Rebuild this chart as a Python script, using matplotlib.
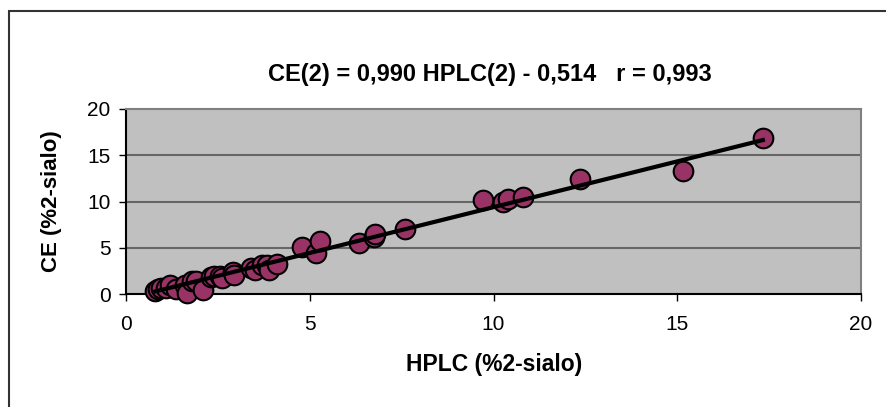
import matplotlib
matplotlib.use("Agg")
import matplotlib.pyplot as plt
from matplotlib.patches import Rectangle
import numpy as np

plt.rcParams['font.family'] = ['Liberation Sans', 'DejaVu Sans']

# HPLC vs CE measurements of 2-sialo transferrin (%)
hplc = [0.80, 0.88, 0.95, 1.10, 1.20, 1.35, 1.60, 1.66, 1.80, 1.90, 2.10,
        2.30, 2.40, 2.55, 2.62, 2.90, 2.95, 3.40, 3.50, 3.70, 3.85, 3.90, 4.10,
        4.79, 5.17, 5.28, 6.34, 6.75, 6.78, 7.59,
        9.71, 10.26, 10.40, 10.80, 12.35, 15.16, 17.33]
ce = [0.30, 0.50, 0.70, 0.60, 1.00, 0.50, 1.00, 0.15, 1.40, 1.40, 0.40,
      1.80, 1.90, 1.90, 1.70, 2.40, 2.10, 2.80, 2.60, 3.10, 3.10, 2.60, 3.20,
      5.10, 4.40, 5.70, 5.50, 6.20, 6.50, 7.00,
      10.20, 9.90, 10.30, 10.50, 12.40, 13.30, 16.90]

slope = 0.990
intercept = -0.514

x_ticks = [0, 5, 10, 15, 20]
y_ticks = [0, 5, 10, 15, 20]

fig = plt.figure(figsize=(8.86, 4.07), dpi=100)
ax = fig.add_axes([126 / 886, 1 - 294 / 407, 735 / 886, 185 / 407])

ax.set_facecolor('#C0C0C0')
ax.set_xlim(0, 20)
ax.set_ylim(0, 20)
ax.set_xticks(x_ticks)
ax.set_yticks(y_ticks)
ax.tick_params(direction='out', length=5, width=1, labelsize=15, color='black')
ax.tick_params(axis='x', pad=10)
ax.tick_params(axis='y', pad=6)

for yv in y_ticks[1:-1]:
    ax.axhline(yv, color='#666666', lw=1.5, zorder=1)

for side in ('top', 'right'):
    ax.spines[side].set_color('#808080')
    ax.spines[side].set_linewidth(1.5)
for side in ('left', 'bottom'):
    ax.spines[side].set_color('black')
    ax.spines[side].set_linewidth(1.5)

ax.scatter(hplc, ce, s=200, color='#993366', edgecolor='black', linewidth=1.5,
           zorder=3, clip_on=False)

xl = np.array([min(hplc), max(hplc)])
ax.plot(xl, slope * xl + intercept, color='black', lw=3, zorder=4)

fig.text(494 / 886, 1 - 365 / 407, 'HPLC (%2-sialo)', ha='center', va='center',
         fontsize=16.5, fontweight='bold')
fig.text(52 / 886, 1 - 201 / 407, 'CE (%2-sialo)', ha='center', va='center',
         rotation=90, fontsize=16, fontweight='bold')

fig.text(490 / 886, 1 - 74 / 407, 'CE(2) = 0,990 HPLC(2) - 0,514   r = 0,993',
         ha='center', va='center', fontsize=17, fontweight='bold')

# chart frame (left and top edges in view)
fig.patches.append(Rectangle((9 / 886, -0.5), 2.0, 1.5 - 11 / 407,
                             transform=fig.transFigure, fill=False,
                             edgecolor='#333333', lw=1.5, zorder=0))

fig.savefig('out.png', dpi=100)
